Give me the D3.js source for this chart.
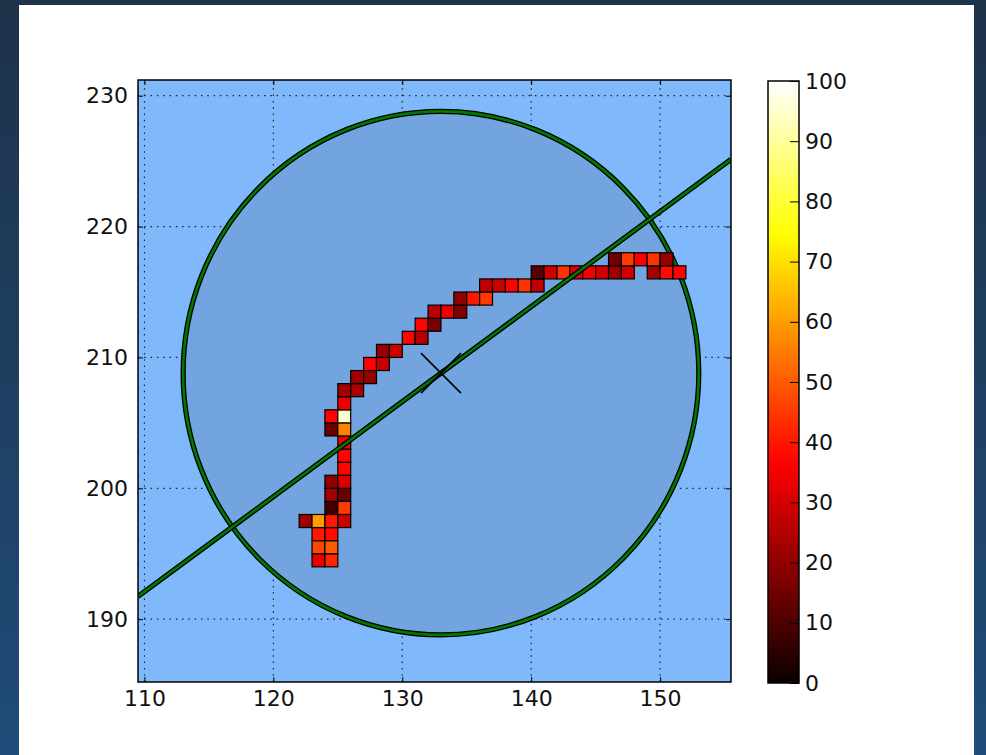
<!DOCTYPE html>
<html>
<head>
<meta charset="utf-8">
<script src="https://cdn.jsdelivr.net/npm/d3@7"></script>
<style>
  html, body { margin: 0; padding: 0; }
  body { width: 986px; height: 755px; overflow: hidden; }
  svg text { font-family: "DejaVu Sans", sans-serif; }
</style>
</head>
<body>
<div id="chart"></div>
<script>
// pixel cells: lower-left corner (x, y) and value
const cellX = [123, 124, 123, 124, 123, 124, 122, 123, 124, 125, 124, 125, 124, 125, 124, 125,
  125, 125, 125, 124, 125, 124, 125, 125, 125, 126, 126, 127, 127, 128, 128, 129,
  130, 131, 131, 132, 132, 133, 134, 134, 135, 136, 136, 137, 138, 139, 140,
  140, 141, 142, 143, 144, 145, 146, 147, 149, 150, 151,
  146, 147, 148, 149, 150];
const cellY = [194, 194, 195, 195, 196, 196, 197, 197, 197, 197, 198, 198, 199, 199, 200, 200,
  201, 202, 203, 204, 204, 205, 205, 206, 207, 207, 208, 208, 209, 209, 210, 210,
  211, 211, 212, 212, 213, 213, 213, 214, 214, 214, 215, 215, 215, 215, 215,
  216, 216, 216, 216, 216, 216, 216, 216, 216, 216, 216,
  217, 217, 217, 217, 217];
const cellValue = [33, 42, 47, 50, 40, 38, 22, 60, 40, 29, 8, 45, 23, 14, 20, 31,
  37, 37, 34, 14, 56, 37, 95, 34, 22, 24, 22, 21, 37, 28, 21, 29,
  37, 25, 37, 17, 26, 34, 18, 20, 40, 45, 27, 29, 37, 44, 27,
  12, 30, 44, 32, 35, 30, 22, 30, 23, 38, 37,
  15, 45, 36, 44, 21];

// fitted circle and line through its centre
const circleCenter = [133, 208.8];
const circleRadius = 20;
const lineSlope = 0.726;

const xTicks = [110, 120, 130, 140, 150];
const yTicks = [190, 200, 210, 220, 230];
const colorTicks = [0, 10, 20, 30, 40, 50, 60, 70, 80, 90, 100];

const W = 986, H = 755;

const svg = d3.select("#chart").append("svg")
  .attr("width", W)
  .attr("height", H);

const defs = svg.append("defs");

// outer background
const bg = defs.append("linearGradient")
  .attr("id", "bg").attr("x1", 0).attr("y1", 0).attr("x2", 0).attr("y2", 1);
bg.append("stop").attr("offset", 0).attr("stop-color", "#1e3249");
bg.append("stop").attr("offset", 1).attr("stop-color", "#1f4c79");
svg.append("rect").attr("width", W).attr("height", H).attr("fill", "url(#bg)");
svg.append("rect").attr("x", 19).attr("y", 5).attr("width", 955).attr("height", 760).attr("fill", "#fff");

// matplotlib "hot"
function hot(t) {
  const c = v => Math.max(0, Math.min(1, v));
  const r = c(0.0416 + 0.9584 * t / 0.365079);
  const g = c((t - 0.365079) / (0.746032 - 0.365079));
  const b = c((t - 0.746032) / (1 - 0.746032));
  return d3.rgb(r * 255, g * 255, b * 255).toString();
}
const color = d3.scaleSequential(hot).domain([0, 100]);

const x = d3.scaleLinear().domain([109.5, 155.5]).range([138, 731]);
const y = d3.scaleLinear().domain([185.2, 231.2]).range([682, 80]);

defs.append("clipPath").attr("id", "plot")
  .append("rect")
  .attr("x", x.range()[0]).attr("y", y.range()[1])
  .attr("width", x.range()[1] - x.range()[0])
  .attr("height", y.range()[0] - y.range()[1]);

svg.append("rect")
  .attr("x", x.range()[0]).attr("y", y.range()[1])
  .attr("width", x.range()[1] - x.range()[0])
  .attr("height", y.range()[0] - y.range()[1])
  .attr("fill", "#80b9fb");

const g = svg.append("g").attr("clip-path", "url(#plot)");

// grid
g.selectAll(".gx").data(xTicks).enter().append("line")
  .attr("x1", d => x(d)).attr("x2", d => x(d))
  .attr("y1", y.range()[0]).attr("y2", y.range()[1])
  .attr("stroke", "#222").attr("stroke-width", 1.2).attr("stroke-dasharray", "1.5,4.8");
g.selectAll(".gy").data(yTicks).enter().append("line")
  .attr("y1", d => y(d)).attr("y2", d => y(d))
  .attr("x1", x.range()[0]).attr("x2", x.range()[1])
  .attr("stroke", "#222").attr("stroke-width", 1.2).attr("stroke-dasharray", "1.5,4.8");

// circle
const ccx = x(circleCenter[0]), ccy = y(circleCenter[1]);
const rx = x(circleCenter[0] + circleRadius) - ccx;
const ry = ccy - y(circleCenter[1] + circleRadius);
g.append("ellipse")
  .attr("cx", ccx).attr("cy", ccy).attr("rx", rx).attr("ry", ry)
  .attr("fill", "#72a5e0")
  .attr("stroke", "#000").attr("stroke-width", 5.2);
g.append("ellipse")
  .attr("cx", ccx).attr("cy", ccy).attr("rx", rx).attr("ry", ry)
  .attr("fill", "none")
  .attr("stroke", "#007800").attr("stroke-width", 2.6);

// cells
g.selectAll(".cell")
  .data(cellValue.map((v, i) => ({ x: cellX[i], y: cellY[i], v })))
  .enter().append("rect")
  .attr("class", "cell")
  .attr("x", d => x(d.x))
  .attr("y", d => y(d.y + 1))
  .attr("width", d => x(d.x + 1) - x(d.x))
  .attr("height", d => y(d.y) - y(d.y + 1))
  .attr("fill", d => color(d.v))
  .attr("stroke", "#000").attr("stroke-width", 1.2);

// line through centre
const lx = x.domain();
const lineY = v => circleCenter[1] + lineSlope * (v - circleCenter[0]);
g.append("line")
  .attr("x1", x(lx[0])).attr("y1", y(lineY(lx[0])))
  .attr("x2", x(lx[1])).attr("y2", y(lineY(lx[1])))
  .attr("stroke", "#000").attr("stroke-width", 5.2);
g.append("line")
  .attr("x1", x(lx[0])).attr("y1", y(lineY(lx[0])))
  .attr("x2", x(lx[1])).attr("y2", y(lineY(lx[1])))
  .attr("stroke", "#007800").attr("stroke-width", 2.6);

// centre marker
const m = 20;
g.append("path")
  .attr("d", `M${ccx - m},${ccy - m}L${ccx + m},${ccy + m}M${ccx - m},${ccy + m}L${ccx + m},${ccy - m}`)
  .attr("stroke", "#000").attr("stroke-width", 1.6).attr("fill", "none");

// axes
function styleAxis(sel) {
  sel.select(".domain").remove();
  sel.selectAll(".tick line").attr("stroke", "#000").attr("stroke-width", 1);
  sel.selectAll("text").attr("font-size", 22).attr("fill", "#111").attr("font-family", "DejaVu Sans");
}
svg.append("g").attr("transform", `translate(0,${y.range()[0]})`)
  .call(d3.axisBottom(x).tickValues(xTicks).tickSizeInner(-5).tickSizeOuter(0).tickPadding(8))
  .call(styleAxis);
svg.append("g").attr("transform", `translate(${x.range()[0]},0)`)
  .call(d3.axisLeft(y).tickValues(yTicks).tickSizeInner(-5).tickSizeOuter(0).tickPadding(10))
  .call(styleAxis);
svg.append("g").attr("transform", `translate(0,${y.range()[1]})`)
  .call(d3.axisTop(x).tickValues(xTicks).tickSizeInner(-5).tickSizeOuter(0).tickFormat(""))
  .call(styleAxis);
svg.append("g").attr("transform", `translate(${x.range()[1]},0)`)
  .call(d3.axisRight(y).tickValues(yTicks).tickSizeInner(-5).tickSizeOuter(0).tickFormat(""))
  .call(styleAxis);

svg.append("rect")
  .attr("x", x.range()[0]).attr("y", y.range()[1])
  .attr("width", x.range()[1] - x.range()[0])
  .attr("height", y.range()[0] - y.range()[1])
  .attr("fill", "none").attr("stroke", "#000").attr("stroke-width", 1.5);

// colorbar
const cbX = 768, cbW = 31;
const cy = d3.scaleLinear().domain([0, 100]).range([683, 81]);
const cg = defs.append("linearGradient")
  .attr("id", "cbar").attr("x1", 0).attr("y1", 1).attr("x2", 0).attr("y2", 0);
cg.selectAll("stop").data(d3.range(0, 1.0001, 0.02)).enter().append("stop")
  .attr("offset", d => d)
  .attr("stop-color", d => hot(d));
svg.append("rect")
  .attr("x", cbX).attr("y", cy(100))
  .attr("width", cbW).attr("height", cy(0) - cy(100))
  .attr("fill", "url(#cbar)");
svg.append("g").attr("transform", `translate(${cbX + cbW},0)`)
  .call(d3.axisRight(cy).tickValues(colorTicks).tickSizeInner(-9).tickSizeOuter(0).tickPadding(6))
  .call(styleAxis);
svg.append("rect")
  .attr("x", cbX).attr("y", cy(100))
  .attr("width", cbW).attr("height", cy(0) - cy(100))
  .attr("fill", "none").attr("stroke", "#000").attr("stroke-width", 1.5);
</script>
</body>
</html>
